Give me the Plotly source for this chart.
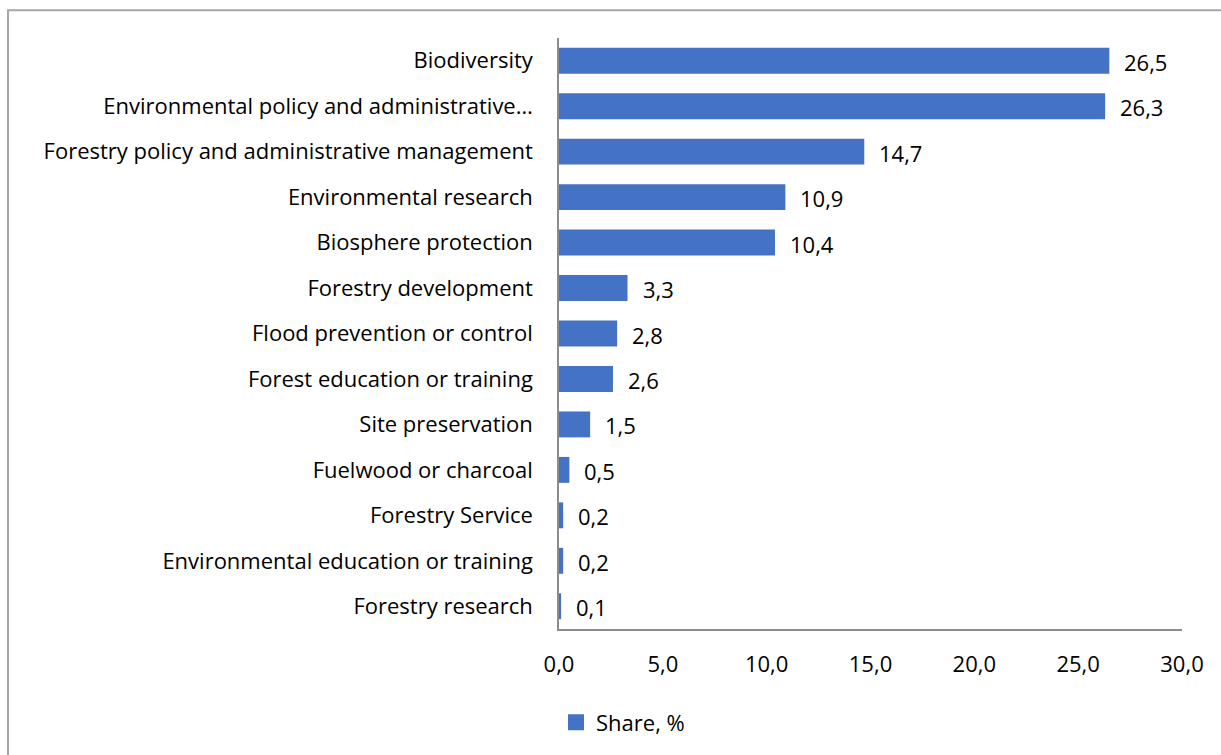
import plotly.graph_objects as go

# Categories (top to bottom) and their shares in percent
categories = [
    "Biodiversity",
    "Environmental policy and administrative…",
    "Forestry policy and administrative management",
    "Environmental research",
    "Biosphere protection",
    "Forestry development",
    "Flood prevention or control",
    "Forest education or training",
    "Site preservation",
    "Fuelwood or charcoal",
    "Forestry Service",
    "Environmental education or training",
    "Forestry research",
]
shares = [26.5, 26.3, 14.7, 10.9, 10.4, 3.3, 2.8, 2.6, 1.5, 0.5, 0.2, 0.2, 0.1]
x_ticks = [0, 5, 10, 15, 20, 25, 30]
series_name = "Share, %"

FONT = "Open Sans"
FS = 22
BAR = "#4472c4"
AXIS = "#8c8c8c"

W, H = 1221, 755
L, R, T, B = 559, 39, 38, 122
plot_w = W - L - R
plot_h = H - T - B

fig = go.Figure()
fig.add_trace(go.Bar(
    x=shares,
    y=categories,
    orientation="h",
    marker=dict(color=BAR, line=dict(width=0)),
    name=series_name,
    showlegend=False,
))
# square legend key for the series
fig.add_trace(go.Scatter(
    x=[None], y=[None], mode="markers",
    marker=dict(symbol="square", size=16, color=BAR),
    name=series_name, showlegend=True,
))

# value labels beside each bar
for c, v in zip(categories, shares):
    fig.add_annotation(
        x=v, y=c, xref="x", yref="y",
        text=f"{v:.1f}".replace(".", ","),
        showarrow=False, xanchor="left", xshift=13, yshift=-1,
        font=dict(family=FONT, size=FS, color="#000000"),
    )

# outer chart border
fig.add_shape(
    type="rect", xref="paper", yref="paper",
    x0=(8 - L) / plot_w, x1=(W + 20 - L) / plot_w,
    y0=-(B + 20) / plot_h, y1=(H - B - 10) / plot_h,
    line=dict(color="#a6a6a6", width=2), fillcolor="rgba(0,0,0,0)",
    layer="below",
)

fig.update_layout(
    width=W, height=H,
    margin=dict(l=L, r=R, t=T, b=B, pad=0),
    paper_bgcolor="white", plot_bgcolor="white",
    separators=",.",
    bargap=0.43,
    font=dict(family=FONT, size=FS, color="#000000"),
    xaxis=dict(
        range=[0, 30], tickvals=x_ticks, tickformat=".1f",
        showgrid=False, zeroline=False,
        showline=True, linecolor=AXIS, linewidth=1.5,
        ticks="", ticklabelstandoff=15,
        tickfont=dict(family=FONT, size=FS, color="#000000"),
        fixedrange=True,
    ),
    yaxis=dict(
        categoryorder="array", categoryarray=categories[::-1],
        autorange=False, range=[-0.5, len(categories) - 0.5],
        showgrid=False, zeroline=False,
        showline=True, linecolor=AXIS, linewidth=1.5,
        ticks="", ticklabelstandoff=20,
        tickfont=dict(family=FONT, size=FS, color="#000000"),
        fixedrange=True,
    ),
    legend=dict(
        orientation="h", x=(556 - L) / plot_w, xanchor="left",
        y=-(727 - (H - B)) / plot_h, yanchor="middle",
        font=dict(family=FONT, size=FS, color="#000000"),
        itemwidth=30, bgcolor="rgba(0,0,0,0)",
    ),
)

fig.write_html("out.html")
